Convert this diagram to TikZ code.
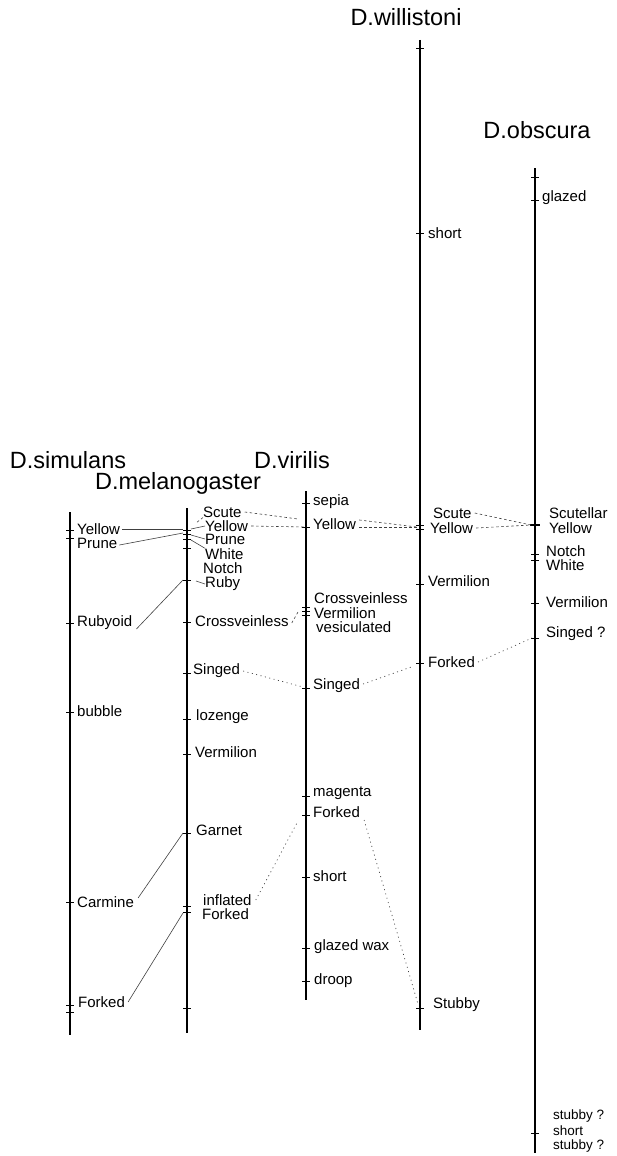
\documentclass[tikz,border=0pt]{standalone}
\usepackage{fontspec}
\setmainfont{Liberation Sans}
\newcommand\tmark[2]{\draw[tk] ({#1-4},#2) -- ({#1+4},#2);}
\begin{document}
\begin{tikzpicture}[x=1pt,y=-1pt,
  lab/.style={anchor=west,inner sep=0pt,font=\fontsize{15}{15}\selectfont},
  smalllab/.style={anchor=west,inner sep=0pt,font=\fontsize{13.5}{14}\selectfont},
  ttl/.style={inner sep=0pt,font=\fontsize{23.5}{24}\selectfont},
  axis/.style={line width=1.6pt},
  tk/.style={line width=0.9pt},
  solidc/.style={line width=0.6pt, black!75},
  dashc/.style={line width=0.6pt, dash pattern=on 2.5pt off 2.5pt, black!75},
  dotc/.style={line width=0.7pt, dash pattern=on 1pt off 3.5pt, black!75}]
\useasboundingbox (0,0) rectangle (617,1156);

% titles
\node[ttl] (tSim) at (68,460) {D.simulans};
\node[ttl] (tMel) at (178,483) {D.melanogaster};
\node[ttl] (tVir) at (292,460) {D.virilis};
\node[ttl] (tWil) at (406,17) {D.willistoni};
\node[ttl] (tObs) at (537,130) {D.obscura};

% axes
\coordinate (sT) at (70,512);  \coordinate (sB) at (70,1035);
\coordinate (mT) at (187,508); \coordinate (mB) at (187,1033);
\coordinate (vT) at (306,491); \coordinate (vB) at (306,1000);
\coordinate (wT) at (420,40);  \coordinate (wB) at (420,1030);
\coordinate (oT) at (535,168); \coordinate (oB) at (535,1153);
\draw[axis] (sT) -- (sB);
\draw[axis] (mT) -- (mB);
\draw[axis] (vT) -- (vB);
\draw[axis] (wT) -- (wB);
\draw[axis] (oT) -- (oB);

% ---- D.simulans
\node[lab] (sYel) at (77,529) {Yellow};
\node[lab] (sPru) at (77,543) {Prune};
\node[lab] (sRub) at (77,623) {Rubyoid};
\node[lab] (sBub) at (77,711) {bubble};
\node[lab] (sCar) at (77,902) {Carmine};
\node[lab] (sFor) at (78,1002) {Forked};
\tmark{70}{530}\tmark{70}{538}\tmark{70}{623}\tmark{70}{712}
\tmark{70}{902}\tmark{70}{1005}\tmark{70}{1012}

% ---- D.melanogaster
\node[lab] (mScu) at (203,512) {Scute};
\node[lab] (mYel) at (205,526) {Yellow};
\node[lab] (mPru) at (205,539) {Prune};
\node[lab] (mWhi) at (205,554) {White};
\node[lab] (mNot) at (203,568) {Notch};
\node[lab] (mRub) at (205,584) {Ruby};
\node[lab] (mCro) at (195,621) {Crossveinless};
\node[lab] (mSin) at (193,671) {Singed};
\node[lab] (mLoz) at (196,717) {lozenge};
\node[lab] (mVer) at (195,752) {Vermilion};
\node[lab] (mGar) at (196,830) {Garnet};
\node[lab] (mInf) at (203,900) {inflated};
\node[lab] (mFor) at (202,914) {Forked};
\tmark{187}{530}\tmark{187}{534}\tmark{187}{539}\tmark{187}{548}
\tmark{187}{580}\tmark{187}{622}\tmark{187}{673}\tmark{187}{719}
\tmark{187}{754}\tmark{187}{833}\tmark{187}{906}\tmark{187}{912}
\tmark{187}{1008}
\coordinate (mY1) at (183,529); \coordinate (mY2) at (183,533);
\coordinate (mRk) at (183,580); \coordinate (mGk) at (183,833);
\coordinate (mFk) at (183,913);
% small leaders
\draw[dashc] (mScu.south west) -- (196,523);
\draw[solidc] (191,529) -- (mYel.west);
\draw[solidc] (191,535) -- (mPru.west);
\draw[solidc] (191,540) -- (mWhi.north west);
\draw[solidc] (196,581) -- (mRub.west);

% ---- D.virilis
\node[lab] (vSep) at (313,502) {sepia};
\node[lab] (vYel) at (313,524) {Yellow};
\node[lab] (vCro) at (314,598) {Crossveinless};
\node[lab] (vVer) at (314,613) {Vermilion};
\node[lab] (vVes) at (316,627) {vesiculated};
\node[lab] (vSin) at (313,686) {Singed};
\node[lab] (vMag) at (313,793) {magenta};
\node[lab] (vFor) at (313,812) {Forked};
\node[lab] (vSho) at (313,876) {short};
\node[lab] (vGla) at (314,947) {glazed wax};
\node[lab] (vDro) at (314,981) {droop};
\tmark{306}{503}\tmark{306}{527}\tmark{306}{607}\tmark{306}{611}
\tmark{306}{615}\tmark{306}{688}\tmark{306}{796}\tmark{306}{815}
\tmark{306}{877}\tmark{306}{948}\tmark{306}{981}
\coordinate (vSk) at (298,519); \coordinate (vYk) at (304,527);
\coordinate (vCk) at (298,612); \coordinate (vGk) at (303,687);
\coordinate (vFk) at (298,821);

% ---- D.willistoni
\node[lab] (wSho) at (428,233) {short};
\node[lab] (wScu) at (433,513) {Scute};
\node[lab] (wYel) at (430,528) {Yellow};
\node[lab] (wVer) at (428,581) {Vermilion};
\node[lab] (wFor) at (428,662) {Forked};
\node[lab] (wStu) at (433,1005) {Stubby};
\tmark{420}{48}\tmark{420}{233}\tmark{420}{525}\tmark{420}{529}
\tmark{420}{584}\tmark{420}{663}\tmark{420}{1008}
\coordinate (wYk) at (417,527); \coordinate (wFk) at (414,666);
\coordinate (wSk) at (418,1004);

% ---- D.obscura
\node[lab] (oGla) at (542,198) {glazed};
\node[lab] (oScu) at (549,513) {Scutellar};
\node[lab] (oYel) at (549,528) {Yellow};
\node[lab] (oNot) at (546,551) {Notch};
\node[lab] (oWhi) at (546,565) {White};
\node[lab] (oVer) at (546,602) {Vermilion};
\node[lab] (oSin) at (546,634) {Singed ?};
\node[smalllab] (oSt1) at (553,1116) {stubby ?};
\node[smalllab] (oSho) at (553,1131) {short};
\node[smalllab] (oSt2) at (553,1146) {stubby ?};
\tmark{535}{177}\tmark{535}{200}\tmark{535}{554}\tmark{535}{560}
\tmark{535}{603}\tmark{535}{638}\tmark{535}{1133}
\draw[line width=1.8pt] (530,525) -- (540,525);
\draw[line width=1.2pt] (535,520) -- (535,530);
\coordinate (oYk) at (531,525); \coordinate (oSk) at (532,638);

% ---- solid connectors simulans -> melanogaster
\draw[solidc] ([xshift=2pt]sYel.east) -- (mY1);
\draw[solidc] ([xshift=2pt,yshift=-2pt]sPru.east) -- (mY2);
\draw[solidc] ([xshift=4pt,yshift=-6pt]sRub.east) -- (mRk);
\draw[solidc] ([xshift=4pt,yshift=4pt]sCar.east) -- (mGk);
\draw[solidc] ([xshift=3pt]sFor.east) -- (mFk);

% ---- melanogaster -> virilis
\draw[dashc] ([xshift=3pt]mScu.east) -- (vSk);
\draw[dashc] ([xshift=3pt]mYel.east) -- (vYk);
\draw[dashc] ([xshift=3pt,yshift=-2pt]mCro.east) -- (vCk);
\draw[dotc] ([xshift=3pt]mSin.east) -- (vGk);
\draw[dotc] ([xshift=4pt]mInf.east) -- (vFk);

% ---- virilis -> willistoni
\draw[dashc] ([xshift=3pt,yshift=4pt]vYel.east) -- (wYk);
\draw[dashc] ([xshift=3pt,yshift=-3pt]vYel.east) -- (wYk);
\draw[dotc] ([xshift=3pt,yshift=2pt]vSin.east) -- (wFk);
\draw[dotc] ([xshift=4pt,yshift=-8pt]vFor.east) -- (wSk);

% ---- willistoni -> obscura
\draw[dashc] ([xshift=3pt]wScu.east) -- (oYk);
\draw[dashc] ([xshift=3pt]wYel.east) -- (oYk);
\draw[dotc] ([xshift=3pt]wFor.east) -- (oSk);
\end{tikzpicture}
\end{document}
